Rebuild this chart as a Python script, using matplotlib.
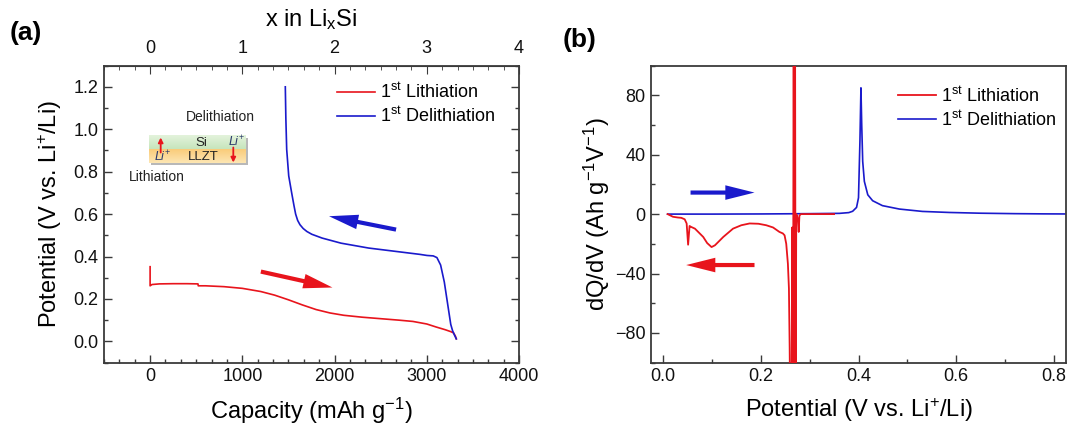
import matplotlib
matplotlib.use('Agg')
import numpy as np
import matplotlib.pyplot as plt
from matplotlib.ticker import MultipleLocator, AutoMinorLocator
from matplotlib.patches import Rectangle

plt.rcParams['font.family'] = 'Liberation Sans'
plt.rcParams['mathtext.fontset'] = 'custom'
plt.rcParams['mathtext.rm'] = 'Liberation Sans'
plt.rcParams['mathtext.it'] = 'Liberation Sans:italic'
plt.rcParams['mathtext.bf'] = 'Liberation Sans:bold'

RED = '#E8141C'
BLUE = '#1A1ACC'
SPINE = '#3a3a3a'

# (a) galvanostatic profile, capacity in mAh/g, potential in V
lith_cap = [0, 0, 20, 100, 250, 400, 519, 522, 600, 800, 1000, 1200, 1350, 1500, 1650,
            1800, 1950, 2100, 2300, 2500, 2700, 2850, 3000, 3100, 3200, 3260, 3290, 3310, 3320]
lith_v = [0.352, 0.262, 0.268, 0.271, 0.272, 0.272, 0.271, 0.262, 0.262, 0.258, 0.250, 0.235,
          0.218, 0.196, 0.172, 0.150, 0.134, 0.123, 0.114, 0.107, 0.100, 0.094, 0.082, 0.068,
          0.055, 0.046, 0.040, 0.025, 0.012]
delith_cap = [3320, 3300, 3280, 3260, 3225, 3190, 3150, 3110, 3070, 3003, 2928, 2667, 2369,
              2070, 1865, 1753, 1700, 1660, 1625, 1600, 1578, 1560, 1535, 1503, 1481, 1472, 1466]
delith_v = [0.012, 0.03, 0.05, 0.08, 0.18, 0.28, 0.36, 0.395, 0.403, 0.405, 0.41, 0.424, 0.44,
            0.463, 0.487, 0.505, 0.518, 0.532, 0.55, 0.57, 0.60, 0.64, 0.70, 0.78, 0.905, 1.05, 1.2]

# (b) differential capacity
lith_pot = [0.350, 0.300, 0.282, 0.279, 0.2775, 0.2760, 0.2740, 0.2725, 0.2712, 0.2700, 0.2688,
            0.2672, 0.2658, 0.2642, 0.2628, 0.2605, 0.2590, 0.2575, 0.2554, 0.2520, 0.2486,
            0.2450, 0.2380, 0.2250, 0.2110, 0.1950, 0.1770, 0.1600, 0.1430, 0.1230, 0.1060,
            0.0990, 0.0900, 0.0820, 0.0650, 0.0570, 0.0540, 0.0510, 0.0480, 0.0440, 0.0370,
            0.0300, 0.0200, 0.0090]
lith_dqdv = [0, 0, 0, -1, -12, -4, -1, 0, -150, 150, -150, 150, -150, -9, -150, -150, -90, -50,
             -33.5, -20, -14.3, -13, -12, -9, -7.5, -6.5, -6.3, -7.5, -9.8, -15.4, -21, -22.2,
             -19.5, -15.4, -9.8, -8.6, -8, -20.6, -6.3, -3.5, -2.5, -2.3, -1.8, 0]
delith_pot = [0.009, 0.05, 0.10, 0.20, 0.30, 0.361, 0.380, 0.388, 0.396, 0.400, 0.403, 0.405,
              0.4066, 0.4086, 0.412, 0.419, 0.429, 0.449, 0.4836, 0.531, 0.586, 0.65, 0.72,
              0.78, 0.823]
delith_dqdv = [0, 0, 0, 0.1, 0.3, 0.5, 1.0, 1.9, 4.5, 11, 50, 85, 60, 35.5, 22, 13, 9, 5.7, 3.4,
               1.8, 1.1, 0.6, 0.3, 0.15, 0.1]

labels = [r'1$^{\mathrm{st}}$ Lithiation', r'1$^{\mathrm{st}}$ Delithiation']

TICK_FS = 13
LABEL_FS = 17
LEG_FS = 13

W, H = 1080, 426
fig = plt.figure(figsize=(10.8, 4.26), dpi=100)
ax_a = fig.add_axes([104 / W, (H - 362.6) / H, 415 / W, 297 / H])
ax_b = fig.add_axes([651 / W, (H - 362.6) / H, 415 / W, 297 / H])


def style(ax, right=True):
    for s in ax.spines.values():
        s.set_color(SPINE)
        s.set_linewidth(1.3)
    ax.tick_params(which='both', direction='in', colors=SPINE, labelcolor='#111111',
                   labelsize=TICK_FS, top=False, right=right, width=1.0)
    ax.tick_params(which='major', length=6, pad=4)
    ax.tick_params(which='minor', length=3)


# ---- panel (a)
ax_a.plot(lith_cap, lith_v, color=RED, lw=1.2, label=labels[0])
ax_a.plot(delith_cap, delith_v, color=BLUE, lw=1.2, label=labels[1])
ax_a.set_xlim(-500, 4000)
ax_a.set_ylim(-0.1, 1.3)
ax_a.xaxis.set_major_locator(MultipleLocator(1000))
ax_a.xaxis.set_minor_locator(AutoMinorLocator(6))
ax_a.yaxis.set_major_locator(MultipleLocator(0.2))
ax_a.yaxis.set_minor_locator(MultipleLocator(0.1))
ax_a.yaxis.set_major_formatter(plt.FormatStrFormatter('%.1f'))
style(ax_a)
ax_a.set_xlabel(r'Capacity (mAh g$^{-1}$)', fontsize=LABEL_FS, labelpad=8)
ax_a.set_ylabel(r'Potential (V vs. Li$^{+}$/Li)', fontsize=LABEL_FS, labelpad=7)

top = ax_a.secondary_xaxis('top', functions=(lambda c: c / 1000.0, lambda x: x * 1000.0))
top.xaxis.set_major_locator(MultipleLocator(1))
top.xaxis.set_minor_locator(AutoMinorLocator(6))
top.tick_params(which='both', direction='in', colors=SPINE, labelcolor='#111111', labelsize=TICK_FS)
top.tick_params(which='major', length=6, pad=6)
top.tick_params(which='minor', length=3)
top.spines['top'].set_color(SPINE)
top.set_xlabel(r'x in Li$_{\mathrm{x}}$Si', fontsize=LABEL_FS, labelpad=10)

ax_a.legend(loc='center left', bbox_to_anchor=(0.561, 0.870), frameon=False,
            fontsize=LEG_FS, borderpad=0, borderaxespad=0, handlelength=2.1,
            handletextpad=0.3, labelspacing=0.25)

arrow_kw = dict(arrowstyle='simple,head_length=2.1,head_width=1.05,tail_width=0.3',
                mutation_scale=10, shrinkA=0, shrinkB=0, lw=0)
ax_a.annotate('', xy=(1977, 0.254), xytext=(1201, 0.329),
              arrowprops=dict(color=RED, **arrow_kw))
ax_a.annotate('', xy=(1940, 0.59), xytext=(2667, 0.527),
              arrowprops=dict(color=BLUE, **arrow_kw))

# schematic of the Si / LLZT cell
ins = fig.add_axes([120 / W, (H - 185) / H, 140 / W, 85 / H])
ins.axis('off')
ins.add_patch(Rectangle((150.5, 137.5), 97, 27.5, color='#b8b8b8', lw=0, zorder=1))
green = np.linspace([0.89, 0.95, 0.86], [0.78, 0.90, 0.74], 20)[:, None, :]
orange = np.linspace([0.98, 0.80, 0.48], [0.99, 0.90, 0.70], 20)[:, None, :]
ins.imshow(green, extent=(149, 246, 149.5, 136), aspect='auto', interpolation='bilinear', zorder=2)
ins.imshow(orange, extent=(149, 246, 163.5, 149.5), aspect='auto', interpolation='bilinear', zorder=2)
ins.set_xlim(120, 260)
ins.set_ylim(185, 100)
ins.annotate('', xy=(160.7, 137.5), xytext=(160.7, 152.5),
             arrowprops=dict(arrowstyle='-|>', color=RED, lw=1.3, mutation_scale=7,
                             shrinkA=0, shrinkB=0), zorder=4)
ins.annotate('', xy=(233.3, 162.5), xytext=(233.3, 147.5),
             arrowprops=dict(arrowstyle='-|>', color=RED, lw=1.3, mutation_scale=7,
                             shrinkA=0, shrinkB=0), zorder=4)
txt = dict(color='#222222', ha='center', va='center', zorder=5)
ins.text(220, 117, 'Delithiation', fontsize=10, **txt)
ins.text(201, 143, 'Si', fontsize=9.5, **txt)
ins.text(157, 177, 'Lithiation', fontsize=10, **txt)
ins.text(203, 156.5, 'LLZT', fontsize=9.5, **txt)
ins.text(237, 142, r'$\mathit{Li}^{+}$', fontsize=9, color='#2b3a6b', ha='center', va='center', zorder=5)
ins.text(163, 156.5, r'$\mathit{Li}^{+}$', fontsize=9, color='#2b3a6b', ha='center', va='center', zorder=5)

# ---- panel (b)
ax_b.plot(delith_pot, delith_dqdv, color=BLUE, lw=1.2, label=labels[1], zorder=2)
ax_b.plot(lith_pot, lith_dqdv, color=RED, lw=1.3, label=labels[0], zorder=3)
ax_b.set_xlim(-0.025, 0.825)
ax_b.set_ylim(-100, 100)
ax_b.xaxis.set_major_locator(MultipleLocator(0.2))
ax_b.xaxis.set_minor_locator(MultipleLocator(0.1))
ax_b.yaxis.set_major_locator(MultipleLocator(40))
ax_b.yaxis.set_minor_locator(MultipleLocator(20))
ax_b.xaxis.set_major_formatter(plt.FormatStrFormatter('%.1f'))
style(ax_b, right=False)
ax_b.set_xlabel(r'Potential (V vs. Li$^{+}$/Li)', fontsize=LABEL_FS, labelpad=8)
ax_b.set_ylabel(r'dQ/dV (Ah g$^{-1}$V$^{-1}$)', fontsize=LABEL_FS, labelpad=2)

h, l = ax_b.get_legend_handles_labels()
ax_b.legend(h[::-1], l[::-1], loc='center left', bbox_to_anchor=(0.595, 0.858), frameon=False,
            fontsize=LEG_FS, borderpad=0, borderaxespad=0, handlelength=2.1,
            handletextpad=0.3, labelspacing=0.25)

ax_b.annotate('', xy=(0.187, 14.5), xytext=(0.056, 14.5),
              arrowprops=dict(color=BLUE, **arrow_kw))
ax_b.annotate('', xy=(0.047, -34.3), xytext=(0.187, -34.3),
              arrowprops=dict(color=RED, **arrow_kw))

fig.text(26 / W, 1 - 33 / H, '(a)', fontsize=19, fontweight='bold', ha='center', va='center')
fig.text(580 / W, 1 - 40 / H, '(b)', fontsize=19, fontweight='bold', ha='center', va='center')

fig.savefig('out.png', dpi=100)
